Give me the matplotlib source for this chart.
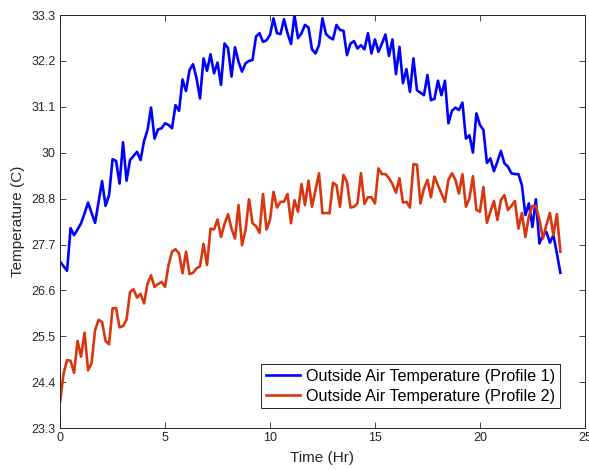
import numpy as np
import matplotlib
matplotlib.use("Agg")
import matplotlib.pyplot as plt

# Time axis: 10-minute samples from 0 to 23.833 hr
time_hr = [i / 6 for i in range(144)]

profile1 = [
    27.33, 27.22, 27.11, 28.14, 27.97, 28.11, 28.26, 28.50, 28.76, 28.51,
    28.27, 28.78, 29.28, 28.68, 28.94, 29.81, 29.77, 29.22, 30.22, 29.29,
    29.79, 29.89, 29.99, 29.79, 30.25, 30.52, 31.06, 30.31, 30.53, 30.56,
    30.68, 30.64, 30.56, 31.12, 30.98, 31.74, 31.46, 31.97, 32.11, 31.77,
    31.28, 32.25, 31.95, 32.35, 31.89, 32.15, 31.61, 32.61, 32.50, 31.81,
    32.52, 32.17, 31.93, 32.13, 32.19, 32.21, 32.78, 32.86, 32.65, 32.69,
    32.82, 33.22, 32.86, 32.84, 33.20, 32.86, 32.60, 33.30, 32.74, 32.86,
    33.06, 33.00, 32.47, 32.37, 32.57, 33.22, 32.84, 32.76, 32.71, 33.06,
    32.94, 32.92, 32.33, 32.61, 32.67, 32.49, 32.57, 32.47, 32.86, 32.37,
    32.71, 32.41, 32.61, 32.83, 32.31, 32.71, 31.87, 32.53, 31.65, 31.99,
    31.44, 32.25, 31.48, 31.42, 31.36, 31.85, 31.24, 31.27, 31.71, 31.36,
    31.71, 30.68, 30.98, 31.06, 31.00, 31.18, 30.31, 30.39, 29.97, 30.92,
    30.64, 30.52, 29.72, 29.83, 29.52, 29.75, 30.01, 29.71, 29.63, 29.47,
    29.45, 29.45, 29.18, 28.46, 28.74, 28.17, 28.84, 27.77, 27.97, 28.05,
    27.79, 27.97, 27.53, 27.06,
]

profile2 = [
    23.94, 24.62, 24.95, 24.93, 24.64, 25.41, 25.03, 25.61, 24.70, 24.87,
    25.67, 25.92, 25.87, 25.41, 25.33, 26.20, 26.21, 25.74, 25.77, 25.93,
    26.60, 26.66, 26.46, 26.55, 26.32, 26.80, 27.00, 26.72, 26.79, 26.84,
    26.72, 27.25, 27.57, 27.63, 27.53, 27.05, 27.57, 27.03, 27.06, 27.17,
    27.22, 27.76, 27.25, 28.13, 28.11, 28.35, 27.93, 28.24, 28.48, 28.13,
    27.89, 28.70, 27.73, 28.09, 28.84, 28.26, 28.19, 28.03, 28.97, 28.11,
    28.34, 29.02, 28.64, 28.78, 28.78, 28.97, 28.26, 28.82, 28.54, 29.21,
    28.70, 29.29, 28.66, 29.06, 29.47, 28.50, 28.51, 28.50, 29.24, 29.18,
    28.66, 29.43, 29.26, 28.64, 28.66, 28.74, 29.47, 28.73, 28.89, 28.89,
    28.74, 29.59, 29.45, 29.45, 29.35, 29.21, 29.00, 29.35, 28.76, 28.78,
    28.64, 29.69, 29.68, 28.74, 29.10, 29.31, 28.89, 29.39, 29.18, 28.98,
    28.78, 29.31, 29.47, 29.31, 28.98, 29.45, 28.66, 28.86, 29.40, 28.58,
    28.54, 29.14, 28.27, 28.54, 28.80, 28.34, 28.82, 28.94, 28.58, 28.68,
    28.80, 28.13, 28.51, 27.93, 28.43, 28.68, 28.68, 28.35, 27.89, 28.22,
    28.51, 27.97, 28.48, 27.57,
]

series_labels = ["Outside Air Temperature (Profile 1)",
                 "Outside Air Temperature (Profile 2)"]
x_ticks = [0, 5, 10, 15, 20, 25]
y_tick_labels = ["23.3", "24.4", "25.5", "26.6", "27.7", "28.8",
                 "30", "31.1", "32.2", "33.3"]

plt.rcParams['font.family'] = ['Liberation Sans', 'DejaVu Sans']
axc = (0.15, 0.15, 0.15)

fig = plt.figure(figsize=(5.89, 4.70), dpi=100)
ax = fig.add_axes([0.102, 0.089, 0.891, 0.879])

ax.plot(time_hr, profile1, color='#0000FF', lw=1.9, label=series_labels[0])
ax.plot(time_hr, profile2, color='#D9360F', lw=1.9, label=series_labels[1])

ax.set_xlim(0, 25)
ax.set_ylim(23.3, 33.3)
ax.set_xticks(x_ticks)
ax.set_xticklabels([str(v) for v in x_ticks])
ax.set_yticks(np.linspace(23.3, 33.3, len(y_tick_labels)))
ax.set_yticklabels(y_tick_labels)

ax.tick_params(direction='in', length=4.5, width=0.6, colors=axc,
               labelsize=9, top=True, right=True, pad=3)
for sp in ax.spines.values():
    sp.set_color(axc)
    sp.set_linewidth(0.7)

ax.set_xlabel("Time (Hr)", fontsize=11, color=axc, labelpad=5)
ax.set_ylabel("Temperature (C)", fontsize=11, color=axc, labelpad=5)

leg = ax.legend(loc='lower right', bbox_to_anchor=(0.952, 0.048),
                borderaxespad=0, fontsize=11.6, fancybox=False,
                framealpha=1, edgecolor=axc, handlelength=2.1,
                handletextpad=0.35, labelspacing=0.3, borderpad=0.3)
leg.get_frame().set_linewidth(0.7)

fig.savefig("out.png", dpi=100)
